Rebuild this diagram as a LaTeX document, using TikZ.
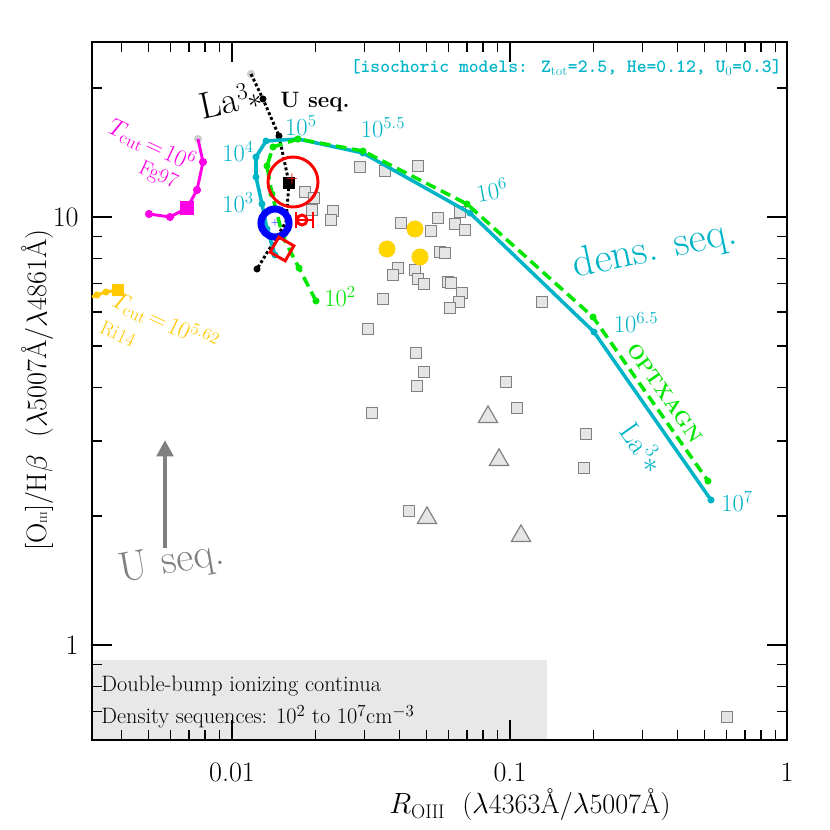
\documentclass[tikz,border=0pt]{standalone}
\usepackage{fontspec}
\usetikzlibrary{shapes.geometric,arrows.meta}
\definecolor{cy}{RGB}{0,180,200}
\definecolor{gr}{RGB}{0,230,0}
\definecolor{mg}{RGB}{255,0,230}
\definecolor{orr}{RGB}{255,200,0}
\definecolor{yl}{RGB}{255,215,0}
\tikzset{
 sq/.style={draw=gray,fill=gray!20,line width=1pt,minimum size=9pt,inner sep=0pt},
 tri/.style={draw=gray,fill=gray!20,line width=1pt,regular polygon,regular polygon sides=3,minimum size=19pt,inner sep=0pt},
 yc/.style={circle,fill=yl,draw=orr,minimum size=14pt,inner sep=0pt},
 cdot/.style={circle,fill=cy,minimum size=6pt,inner sep=0pt},
 gdot/.style={circle,fill=gr,minimum size=6pt,inner sep=0pt},
 mdot/.style={circle,fill=mg,minimum size=7pt,inner sep=0pt},
 bdot/.style={circle,fill=black,minimum size=6pt,inner sep=0pt},
 lab/.style={inner sep=1pt,font=\fontsize{21}{24}\selectfont},
 big/.style={inner sep=1pt,font=\fontsize{24}{28}\selectfont},
}
\begin{document}
\begin{tikzpicture}[x=0.03cm,y=-0.03cm]
\useasboundingbox (0,0) rectangle (830,830);
% legend box
\fill[gray!18] (92,660) rectangle (547,740);
\node[anchor=west,lab,font=\fontsize{19}{22}\selectfont] (t1) at (100,686) {Double-bump ionizing continua};
\node[anchor=west,lab,font=\fontsize{19}{22}\selectfont] (t2) at (100,717) {Density sequences: 10$^{2}$ to 10$^{7}$cm$^{-3}$};
% ticks
\foreach \d in {-3,-2,-1}{
 \foreach \m in {2,...,9}{
  \pgfmathsetmacro{\xx}{232+278*(\d+2+log10(\m))}
  \ifdim\xx pt>92pt \ifdim\xx pt<787pt
   \draw[line width=1.2pt] (\xx,740)--(\xx,730) (\xx,42)--(\xx,52);
  \fi\fi }}
\foreach \xx in {232,510}{\draw[line width=1.2pt] (\xx,740)--(\xx,720) (\xx,42)--(\xx,62);}
\foreach \d in {-1,0,1}{
 \foreach \m in {2,...,9}{
  \pgfmathsetmacro{\yy}{645-428*(\d+log10(\m))}
  \ifdim\yy pt>42pt \ifdim\yy pt<740pt
   \draw[line width=1.2pt] (92,\yy)--(102,\yy) (787,\yy)--(777,\yy);
  \fi\fi }}
\foreach \yy in {217,645}{\draw[line width=1.2pt] (92,\yy)--(112,\yy) (787,\yy)--(767,\yy);}
\draw[line width=1.5pt] (92,42) rectangle (787,740);
\node[big] (x1) at (232,772) {0.01};
\node[big] (x2) at (510,772) {0.1};
\node[big] (x3) at (787,772) {1};
\node[big,anchor=east] (y1) at (80,645) {1};
\node[big,anchor=east] (y2) at (80,217) {10};
\node[big] (xl) at (530,805) {$R_{\rm OIII}$\ \ ($\lambda$4363Å/$\lambda$5007Å)};
\node[big,rotate=90] (yl) at (38,390) {[O{\footnotesize III}]/H$\beta$\ \ ($\lambda$5007Å/$\lambda$4861Å)};
% gray squares
\foreach \p [count=\i] in {(305,192),(314,198),(312,210),(333,211),(331,220),(401,223),(431,231),(438,218),(455,224),(465,230),(460,212),(440,252),(445,253),(448,282),(398,268),(393,275),(415,270),(418,279),(424,284),(451,283),(462,293),(459,302),(450,308),(383,299),(360,167),(385,171),(418,166),(368,329),(542,302),(416,353),(424,372),(417,386),(372,413),(506,382),(517,408),(586,434),(584,468),(409,511),(727,717)}
 \node[sq] (s\i) at \p {};
\node[tri] (tr1) at (488,417) {};
\node[tri] (tr2) at (499,460) {};
\node[tri] (tr3) at (427,518) {};
\node[tri] (tr4) at (521,536) {};
\node[yc] (yc1) at (415,229) {};
\node[yc] (yc2) at (387,249) {};
\node[yc] (yc3) at (420,257) {};
% magenta Fg97
\node[circle,fill=gray!40,minimum size=7pt,inner sep=0pt] (m0) at (198,139) {};
\node[mdot] (m1) at (203,162) {};
\node[mdot] (m2) at (197,190) {};
\node[fill=mg,minimum size=12pt,inner sep=0pt] (m3) at (187,208) {};
\node[mdot] (m4) at (170,217) {};
\node[mdot] (m5) at (149,214) {};
\draw[mg,line width=2.5pt] (m0.center)--(m1.center)--(m2.center)--(m3.center)--(m4.center)--(m5.center);
\node[mg,lab,rotate=-25] (fl) at (152,145) {$T_{\rm cut}\!=\!10^{6}$};
\node[mg,lab,rotate=-25,font=\fontsize{18}{20}\selectfont] (fg) at (158,176) {Fg97};
% orange Ri14
\node[circle,fill=orr,minimum size=6pt,inner sep=0pt] (o1) at (97,295) {};
\node[circle,fill=orr,minimum size=6pt,inner sep=0pt] (o2) at (106,292) {};
\node[fill=orr,minimum size=10pt,inner sep=0pt] (o3) at (118,290) {};
\draw[orr,line width=2.5pt] (92,297)--(o1.center)--(o2.center)--(o3.center)--(123,290);
\node[orr,lab,rotate=-25] (ol) at (165,322) {$T_{\rm cut}\!=\!10^{5.62}$};
\node[orr,lab,rotate=-25,font=\fontsize{17}{20}\selectfont] (ri) at (118,334) {Ri14};
% black U seq
\node[circle,fill=gray!40,minimum size=7pt,inner sep=0pt] (b0) at (251,74) {};
\node[bdot] (b1) at (263,99) {};
\node[bdot] (b2) at (279,136) {};
\node[fill=black,minimum size=11pt,inner sep=0pt] (b3) at (289,183) {};
\node[bdot] (b4) at (257,269) {};
\coordinate (b5) at (286,222);
\draw[line width=2.5pt,dotted] (b0.center)--(b1.center)--(b2.center)--(b3.center)--(b5)--(b4.center);
\node[inner sep=0pt,rotate=12,font=\fontsize{32}{36}\selectfont] (la) at (230,100) {La$^{3}$\hspace{-2pt}$\ast$};
\node[lab,font=\bfseries\fontsize{19}{22}\selectfont] (us) at (315,102) {U seq.};
% cyan density seq
\foreach \n/\a/\b in {c1/275/255,c2/267/229,c3/262/204,c4/256/177,c5/256/157,c6/266/141,c7/298/139,c8/363/153,c9/470/213,c10/594/332,c11/711/500}
 \node[cdot] (\n) at (\a,\b) {};
\draw[cy,line width=3pt,line join=round] (c1.center)--(c2.center)--(c3.center)--(c4.center)--(c5.center)--(c6.center)--(c7.center)--(c8.center)--(c9.center)--(c10.center)--(c11.center);
% green dashed
\foreach \n/\a/\b in {g1/316/301,g2/299/268,g3/283/237,g4/272/194,g5/267/166,g6/273/147,g7/298/139,g8/363/151,g9/467/204,g10/593/317,g11/708/481}
 \node[gdot] (\n) at (\a,\b) {};
\draw[gr,line width=3pt,dash pattern=on 9pt off 5pt] (g1.center)--(g2.center)--(g3.center)--(g4.center)--(g5.center)--(g6.center)--(g7.center)--(g8.center)--(g9.center)--(g10.center)--(g11.center);
% observational markers
\draw[red,line width=2.5pt] (293,182) circle (25);
\node[red,font=\bfseries\large] (rp) at (292,179) {+};
\draw[blue,line width=6pt] (275,223) circle (14);
\node[blue,font=\small] (bp) at (275,223) {+};
\node[draw=red,line width=2.5pt,diamond,minimum size=22pt,inner sep=0pt,rotate=15] (rd) at (282,249) {};
\draw[red,line width=2.5pt] (302,220) circle (5);
\draw[red,line width=2.5pt] (296,220)--(313,220) (296,212)--(296,228) (313,212)--(313,228);
% labels
\node[cy,lab,anchor=east] (l5) at (318,126) {10$^{5}$};
\node[cy,lab] (l55) at (383,128) {10$^{5.5}$};
\node[cy,lab] (l4) at (238,152) {10$^{4}$};
\node[cy,lab] (l3) at (238,203) {10$^{3}$};
\node[gr,lab] (l2) at (340,297) {10$^{2}$};
\node[cy,lab,rotate=10] (l6) at (492,190) {10$^{6}$};
\node[cy,lab] (l65) at (636,323) {10$^{6.5}$};
\node[cy,lab] (l7) at (737,502) {10$^{7}$};
\node[cy,inner sep=0pt,rotate=12,font=\fontsize{36}{40}\selectfont] (ds) at (655,250) {dens. seq.};
\node[gr,lab,rotate=-55,font=\bfseries\fontsize{17}{20}\selectfont] (op) at (665,393) {OPTXAGN};
\node[cy,inner sep=0pt,rotate=-55,font=\fontsize{25}{28}\selectfont] (lc) at (643,447) {La$^{3}$\hspace{-1pt}$\ast$};
\node[cy,lab,anchor=north east,font=\ttfamily\bfseries\fontsize{16}{19}\selectfont] (hd) at (783,58) {[isochoric models: Z$_{\rm tot}$=2.5, He=0.12, U$_{0}$=0.3]};
% U seq arrow
\coordinate (ua) at (165,548);
\coordinate (ub) at (165,440);
\draw[gray,line width=4pt,-{Triangle[length=14pt,width=14pt]}] (ua)--(ub);
\node[gray,inner sep=0pt,rotate=10,font=\fontsize{36}{40}\selectfont] (ul) at (172,563) {U seq.};
\end{tikzpicture}
\end{document}
